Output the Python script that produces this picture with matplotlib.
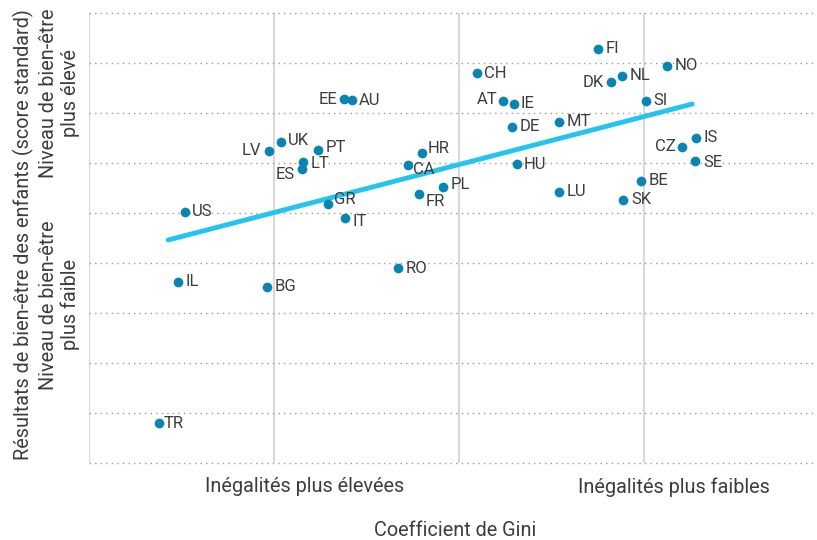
import numpy as np
import matplotlib
matplotlib.use("Agg")
import matplotlib.pyplot as plt

plt.rcParams['font.family'] = ['Roboto', 'DejaVu Sans']

# country codes and (gini index position, well-being score)
countries = ["FI", "NO", "NL", "DK", "CH", "AT", "IE", "SI", "DE", "MT",
             "IS", "CZ", "SE", "HU", "BE", "LU", "SK", "PL", "EE", "AU",
             "UK", "LV", "PT", "LT", "ES", "HR", "CA", "FR", "GR", "IT",
             "US", "IL", "BG", "RO", "TR"]
gini_pos = [2.753, 3.126, 2.881, 2.822, 2.096, 2.236, 2.296, 3.012, 2.286, 2.542,
            3.283, 3.207, 3.277, 2.312, 2.984, 2.541, 2.888, 1.911, 1.380, 1.423,
            1.036, 0.971, 1.239, 1.155, 1.153, 1.798, 1.723, 1.784, 1.292, 1.385,
            0.517, 0.481, 0.961, 1.672, 0.380]
wellbeing = [3.79, 3.45, 3.25, 3.13, 3.30, 2.74, 2.68, 2.75, 2.23, 2.32,
             2.01, 1.83, 1.54, 1.49, 1.15, 0.93, 0.76, 1.02, 2.78, 2.77,
             1.93, 1.75, 1.76, 1.53, 1.39, 1.70, 1.47, 0.88, 0.68, 0.41,
             0.53, -0.87, -0.97, -0.59, -3.70]

# trend line end points
trend_x = [0.428, 3.261]
trend_y = [-0.04, 2.68]

# label offsets in points (default: right of the dot)
offsets = {
    "EE": (-5, 0, "right"), "LV": (-5.5, 0, "right"), "ES": (-5.5, -4, "right"),
    "DK": (-5, -1, "right"), "AT": (-4, 1, "right"), "CZ": (-5, 0, "right"),
    "AU": (5, -1, "left"), "UK": (5.5, 1, "left"), "PT": (5.5, 2, "left"),
    "LT": (5.5, -1.5, "left"), "HR": (4.5, 3, "left"), "CA": (4, -3.5, "left"),
    "FR": (4.5, -5.3, "left"), "PL": (5.5, 2, "left"), "GR": (4, 3, "left"),
    "IT": (5.5, -2.7, "left"), "TR": (3.3, 0, "left"), "SE": (5.5, -1, "left"),
    "HU": (4.7, -0.7, "left"), "RO": (5.3, -0.7, "left"), "IE": (5, 0.5, "left"),
}

text_col = "#3d3d3d"
dot_col = "#0a85b3"
line_col = "#23c4f0"
lab_size = 14.3

fig = plt.figure(figsize=(8.17, 5.40), dpi=100)
ax = fig.add_axes([89 / 817, 77 / 540, 1 - 89 / 817, 450 / 540])

ax.set_xlim(0, 728 / 185)
ax.set_ylim(-4.5, 4.5)

for xv in range(4):
    ax.axvline(xv, color="#d9d9d9", lw=1.5, zorder=0)
for yv in np.arange(-4.5, 4.6, 1):
    ax.axhline(yv, color="#9a9a9a", lw=1.0, ls=(0, (1, 3)), zorder=0, clip_on=False)

ax.plot(trend_x, trend_y, color=line_col, lw=3.5, solid_capstyle="round", zorder=2)
ax.plot(gini_pos, wellbeing, "o", color=dot_col, ms=7, mec="none", zorder=3)

for c, xv, yv in zip(countries, gini_pos, wellbeing):
    dx, dy, ha = offsets.get(c, (5.5, 0, "left"))
    ax.annotate(c, (xv, yv), xytext=(dx, dy), textcoords="offset points",
                ha=ha, va="center", fontsize=12, color=text_col)

for s in ax.spines.values():
    s.set_visible(False)
ax.set_xticks([])
ax.set_yticks([])

fig.text(304.5 / 817, 1 - 487 / 540, "Inégalités plus élevées", ha="center", va="center",
         fontsize=lab_size, color=text_col)
fig.text(673.5 / 817, 1 - 487 / 540, "Inégalités plus faibles", ha="center", va="center",
         fontsize=lab_size, color=text_col)
fig.text(455 / 817, 1 - 531 / 540, "Coefficient de Gini", ha="center", va="center",
         fontsize=lab_size, color=text_col)

fig.text(23 / 817, 1 - 235 / 540, "Résultats de bien-être des enfants (score standard)",
         rotation=90, ha="center", va="center", fontsize=lab_size, color=text_col)
fig.text(59.5 / 817, 1 - 93 / 540, "Niveau de bien-être\nplus élevé", rotation=90,
         ha="center", va="center", multialignment="center", fontsize=lab_size,
         color=text_col, linespacing=1.15)
fig.text(59.5 / 817, 1 - 305 / 540, "Niveau de bien-être\nplus faible", rotation=90,
         ha="center", va="center", multialignment="center", fontsize=lab_size,
         color=text_col, linespacing=1.15)

fig.savefig("out.png", dpi=100)
